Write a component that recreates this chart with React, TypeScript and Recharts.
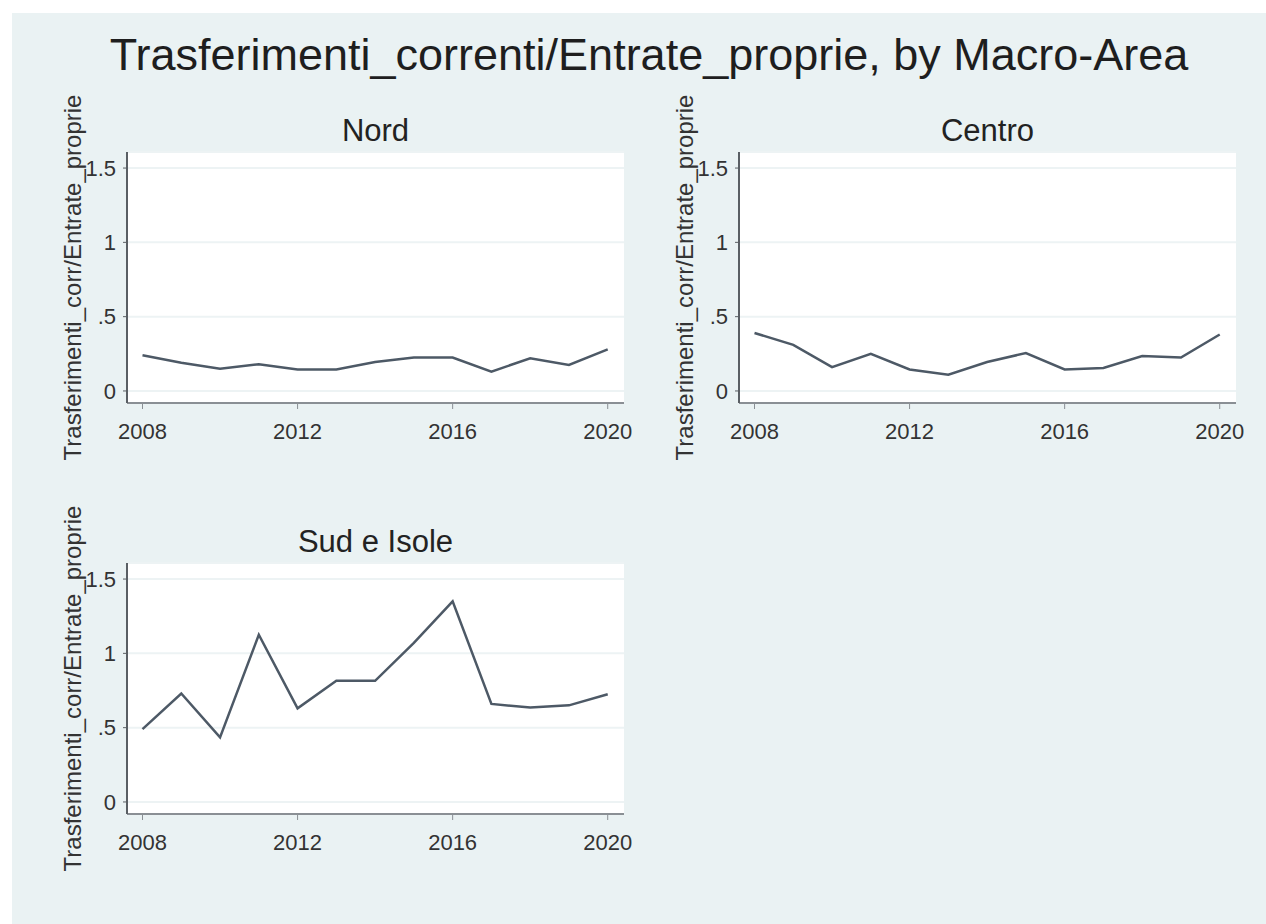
import React from "react";
import { LineChart, Line, XAxis, YAxis, CartesianGrid } from "recharts";

const years = [2008, 2009, 2010, 2011, 2012, 2013, 2014, 2015, 2016, 2017, 2018, 2019, 2020];
const nord = [0.24, 0.19, 0.15, 0.18, 0.145, 0.145, 0.195, 0.225, 0.225, 0.13, 0.22, 0.175, 0.28];
const centro = [0.39, 0.31, 0.16, 0.25, 0.145, 0.11, 0.195, 0.255, 0.145, 0.155, 0.235, 0.225, 0.38];
const sud = [0.49, 0.73, 0.435, 1.125, 0.63, 0.815, 0.815, 1.07, 1.35, 0.66, 0.635, 0.65, 0.725];
const yTicks = [0, 0.5, 1, 1.5];
const xTicks = [2008, 2012, 2016, 2020];
const yTitle = "Trasferimenti_corr/Entrate_proprie";

const FONT = "'Liberation Sans', Arial, sans-serif";

const fmtY = (v: number) => (v === 0 ? "0" : v === 0.5 ? ".5" : v === 1 ? "1" : "1.5");

// rotated y title, placed ~55px left of the axis line
const YLabel = (props: any) => {
  const vb = props.viewBox || {};
  const cx = vb.x + vb.width - 55;
  const cy = vb.y + vb.height / 2;
  return (
    <text
      x={cx}
      y={cy}
      transform={`rotate(-90, ${cx}, ${cy})`}
      textAnchor="middle"
      dominantBaseline="central"
      fontSize={24}
      fontFamily={FONT}
      fill="#333"
    >
      {yTitle}
    </text>
  );
};

interface PanelProps {
  title: string;
  values: number[];
  left: number;
  top: number;
  width: number;
}

const Panel = ({ title, values, left, top, width }: PanelProps) => {
  const data = years.map((y, i) => ({ year: y, v: values[i] }));
  const height = 420;
  const margin = { top: 72, left: 67, right: width - 127 - 497, bottom: 37 };
  return (
    <div style={{ position: "absolute", left, top, width, height }}>
      <div
        style={{
          position: "absolute",
          left: 127,
          width: 497,
          top: 32,
          textAlign: "center",
          fontFamily: FONT,
          fontSize: 31,
          color: "#222",
          lineHeight: "38px",
        }}
      >
        {title}
      </div>
      <LineChart width={width} height={height} data={data} margin={margin} style={{ overflow: "visible" }}>
        <CartesianGrid horizontal vertical={false} stroke="#edf3f4" strokeWidth={2} fill="#ffffff" />
        <XAxis
          dataKey="year"
          type="number"
          domain={[2007.6, 2020.42]}
          ticks={xTicks}
          allowDataOverflow
          height={60}
          tickSize={6}
          tickMargin={14}
          axisLine={{ stroke: "#8a8f94", strokeWidth: 2 }}
          tickLine={{ stroke: "#8a8f94" }}
          tick={{ fontSize: 22, fontFamily: FONT, fill: "#333" }}
        />
        <YAxis
          type="number"
          domain={[-0.081, 1.608]}
          ticks={yTicks}
          allowDataOverflow
          width={60}
          tickSize={4}
          tickMargin={7}
          tickFormatter={fmtY}
          axisLine={{ stroke: "#5a5f64", strokeWidth: 2 }}
          tickLine={{ stroke: "#5a5f64" }}
          tick={{ fontSize: 22, fontFamily: FONT, fill: "#333" }}
          label={{ content: YLabel }}
        />
        <Line
          type="linear"
          dataKey="v"
          stroke="#4d5966"
          strokeWidth={2.5}
          dot={false}
          isAnimationActive={false}
        />
      </LineChart>
    </div>
  );
};

export default function App() {
  return (
    <div style={{ position: "absolute", left: 0, top: 0, width: 1266, height: 924, background: "#ffffff", overflow: "hidden" }}>
      <div style={{ position: "absolute", left: 12, top: 13, width: 1254, height: 911, background: "#eaf2f3" }} />
      <div
        style={{
          position: "absolute",
          left: 0,
          width: 1298,
          top: 29,
          textAlign: "center",
          fontFamily: FONT,
          fontSize: 45,
          color: "#1e1e1e",
          lineHeight: "52px",
        }}
      >
        Trasferimenti_correnti/Entrate_proprie, by Macro-Area
      </div>
      <Panel title="Nord" values={nord} left={0} top={80} width={640} />
      <Panel title="Centro" values={centro} left={612} top={80} width={640} />
      <Panel title="Sud e Isole" values={sud} left={0} top={491} width={640} />
    </div>
  );
}
